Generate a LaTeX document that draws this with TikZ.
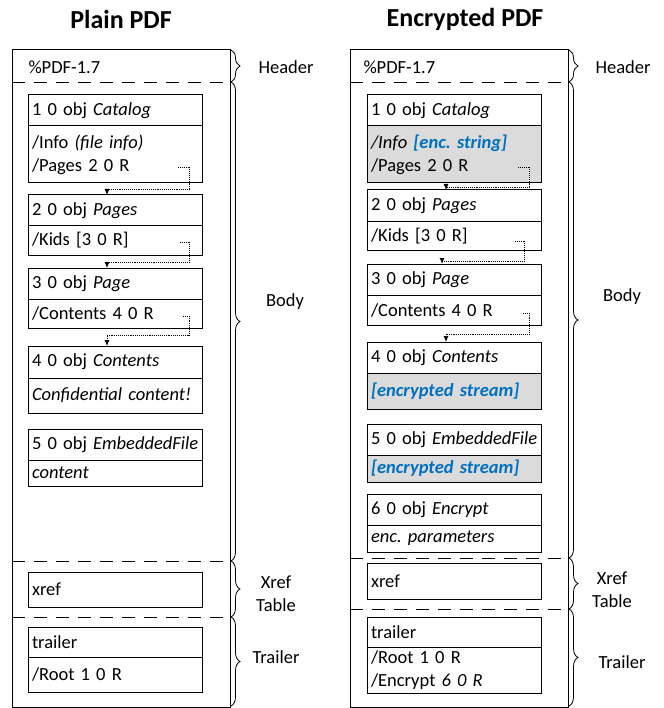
\documentclass[tikz,border=0pt]{standalone}
\usepackage{fontspec}
\setmainfont{Carlito}
\usepackage{tikz}
\usetikzlibrary{positioning, arrows.meta, decorations.pathreplacing}
\definecolor{encblue}{RGB}{0, 112, 192}
\definecolor{gray85}{gray}{0.86}
\newcommand{\enctext}[1]{\textcolor{encblue}{\textbf{\textit{#1}}}}
\frenchspacing

\begin{document}
\begin{tikzpicture}[x=1pt, y=-1pt, line width=1pt,
  font=\fontsize{18.5}{23}\selectfont,
  obj/.style={draw, outer sep=0pt, inner xsep=4pt, inner ysep=0pt,
    minimum width=174pt, text width=166pt, align=left},
  hd/.style={obj, anchor=north west, minimum height=31pt},
  encfill/.style={fill=gray85},
  sep/.style={dash pattern=on 13pt off 9pt, line width=0.8pt},
  ref/.style={densely dotted, line width=0.9pt, -{Latex[length=6pt,width=5pt]}},
  brc/.style={decorate, decoration={brace, amplitude=9pt}, line width=0.8pt},
  lbl/.style={align=center, inner sep=0pt}]
  \useasboundingbox (0,0) rectangle (663,708);

  % titles
  \node[font=\fontsize{26}{30}\selectfont\bfseries] (ptitle) at (121,19) {Plain PDF};
  \node[font=\fontsize{26}{30}\selectfont\bfseries] (etitle) at (465,19) {Encrypted PDF};

  % plain file
  \draw (12,50) rectangle (230,707);
  \draw[sep] (12,82) -- (230,82);
  \draw[sep] (12,561) -- (230,561);
  \draw[sep] (12,617) -- (230,617);
  \node[lbl, anchor=west] (phdr) at (28,67) {\%PDF-1.7};

  \node[hd] (p1h) at (28,95) {1 0 obj \textit{Catalog}};
  \node[obj, below=0pt of p1h, minimum height=57pt] (p1b) {/Info \textit{(file info)}\\/Pages 2 0 R};
  \node[hd] (p2h) at (28,195) {2 0 obj \textit{Pages}};
  \node[obj, below=0pt of p2h, minimum height=29pt] (p2b) {/Kids [3 0 R]};
  \node[hd] (p3h) at (28,268) {3 0 obj \textit{Page}};
  \node[obj, below=0pt of p3h, minimum height=29pt] (p3b) {/Contents 4 0 R};
  \node[hd, minimum height=32pt] (p4h) at (28,346) {4 0 obj \textit{Contents}};
  \node[obj, below=0pt of p4h, minimum height=35pt] (p4b) {\textit{Confidential content!}};
  \node[hd] (p5h) at (28,429) {\mbox{5 0 obj \textit{EmbeddedFile}}};
  \node[obj, below=0pt of p5h, minimum height=26pt] (p5b) {\textit{content}};
  \node[hd, minimum height=35pt] (pxr) at (28,572) {xref};
  \node[hd, minimum height=30pt] (pth) at (28,627) {trailer};
  \node[obj, below=0pt of pth, minimum height=35pt] (ptb) {/Root 1 0 R};

  \coordinate (p1s) at (178,167);
  \coordinate (p2s) at (180,242);
  \coordinate (p3s) at (183,316);
  \draw[ref] (p1s) -- ++(11,0) |- ([xshift=-8pt,yshift=6pt]p2h.north) -- ([xshift=-8pt]p2h.north);
  \draw[ref] (p2s) -- ++(9,0) |- ([xshift=-8pt,yshift=6pt]p3h.north) -- ([xshift=-8pt]p3h.north);
  \draw[ref] (p3s) -- ++(6,0) |- ([xshift=-8pt,yshift=11pt]p4h.north) -- ([xshift=-8pt]p4h.north);

  \draw[brc] (231,50) -- (231,82);
  \draw[brc] (231,82) -- (231,561);
  \draw[brc] (231,561) -- (231,617);
  \draw[brc] (231,617) -- (231,706);
  \node[lbl] (phl) at (286,67) {Header};
  \node[lbl] (pbl) at (285,302) {Body};
  \node[lbl] (pxl) at (276,594) {Xref\\Table};
  \node[lbl] (ptl) at (276,657) {Trailer};

  % encrypted file
  \draw (350,50) rectangle (568,707);
  \draw[sep] (350,82) -- (568,82);
  \draw[sep] (350,558) -- (568,558);
  \draw[sep] (350,609) -- (568,609);
  \node[lbl, anchor=west] (ehdr) at (363,67) {\%PDF-1.7};

  \node[hd] (e1h) at (367,95) {1 0 obj \textit{Catalog}};
  \node[obj, encfill, below=0pt of e1h, minimum height=57pt] (e1b) {\textit{/Info} \enctext{[enc. string]}\\/Pages 2 0 R};
  \node[hd, minimum height=32pt] (e2h) at (367,190) {2 0 obj \textit{Pages}};
  \node[obj, below=0pt of e2h, minimum height=29pt] (e2b) {/Kids [3 0 R]};
  \node[hd] (e3h) at (367,264) {3 0 obj \textit{Page}};
  \node[obj, below=0pt of e3h, minimum height=30pt] (e3b) {/Contents 4 0 R};
  \node[hd] (e4h) at (367,342) {4 0 obj \textit{Contents}};
  \node[obj, encfill, below=0pt of e4h, minimum height=36pt] (e4b) {\enctext{[encrypted stream]}};
  \node[hd] (e5h) at (367,424) {\mbox{5 0 obj \textit{EmbeddedFile}}};
  \node[obj, encfill, below=0pt of e5h, minimum height=27pt] (e5b) {\enctext{[encrypted stream]}};
  \node[hd] (e6h) at (367,494) {6 0 obj \textit{Encrypt}};
  \node[obj, below=0pt of e6h, minimum height=27pt] (e6b) {\textit{enc. parameters}};
  \node[hd, minimum height=36pt] (exr) at (367,563) {xref};
  \node[hd, minimum height=30pt] (eth) at (367,617) {trailer};
  \node[obj, below=0pt of eth, minimum height=46pt] (etb) {/Root 1 0 R\\/Encrypt \textit{6 0 R}};

  \coordinate (e1s) at (518,167);
  \coordinate (e2s) at (515,241);
  \coordinate (e3s) at (523,313);
  \draw[ref] (e1s) -- ++(11,0) |- ([xshift=-8pt,yshift=3pt]e2h.north) -- ([xshift=-8pt]e2h.north);
  \draw[ref] (e2s) -- ++(9,0) |- ([xshift=-12pt,yshift=3pt]e3h.north) -- ([xshift=-12pt]e3h.north);
  \draw[ref] (e3s) -- ++(6,0) |- ([xshift=-8pt,yshift=8pt]e4h.north) -- ([xshift=-8pt]e4h.north);

  \draw[brc] (569,50) -- (569,82);
  \draw[brc] (569,82) -- (569,558);
  \draw[brc] (569,558) -- (569,609);
  \draw[brc] (569,609) -- (569,706);
  \node[lbl] (ehl) at (623,67) {Header};
  \node[lbl] (ebl) at (622,297) {Body};
  \node[lbl] (exl) at (612,590) {Xref\\Table};
  \node[lbl] (etl) at (622,662) {Trailer};
\end{tikzpicture}
\end{document}
